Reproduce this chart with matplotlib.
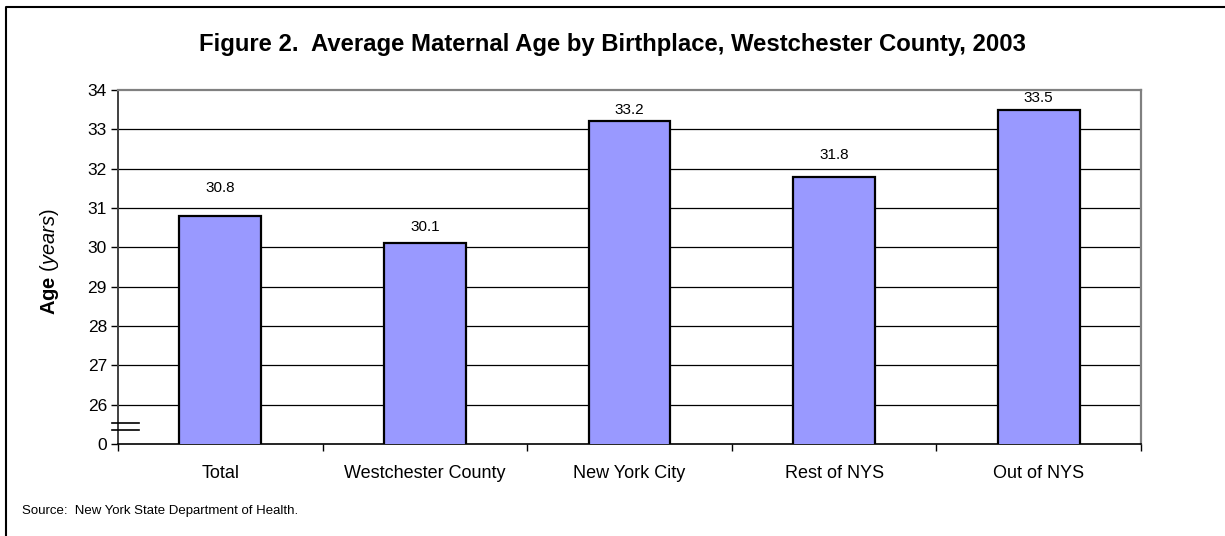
import matplotlib.pyplot as plt
from matplotlib.lines import Line2D
from matplotlib.ticker import FixedLocator
import numpy as np

plt.rcParams['font.family'] = ['Liberation Sans', 'DejaVu Sans']
plt.rcParams['mathtext.fontset'] = 'custom'
plt.rcParams['mathtext.rm'] = 'Liberation Sans'
plt.rcParams['mathtext.bf'] = 'Liberation Sans:bold'
plt.rcParams['mathtext.it'] = 'Liberation Sans:italic'

# data
categories = ["Total", "Westchester County", "New York City", "Rest of NYS", "Out of NYS"]
ages = [30.8, 30.1, 33.2, 31.8, 33.5]
ytick_values = [25, 26, 27, 28, 29, 30, 31, 32, 33, 34]
ytick_labels = ["0", "26", "27", "28", "29", "30", "31", "32", "33", "34"]

# label offsets above bars (points), Excel placed them unevenly
label_offsets = [20, 12, 8.5, 15.5, 8.5]

fig = plt.figure(figsize=(12.25, 5.36), dpi=100)
ax = fig.add_axes([118 / 1225, 1 - 444 / 536, (1141 - 118) / 1225, (444 - 90) / 536])

x = np.arange(len(categories))
bars = ax.bar(x, ages, width=0.4, bottom=0, color="#9999FF", edgecolor="black", linewidth=1.6, zorder=3)

ax.set_xlim(-0.5, len(categories) - 0.5)
ax.set_ylim(25, 34)

# gridlines
for yv in ytick_values[1:-1]:
    ax.axhline(yv, color="black", linewidth=0.9, zorder=1)

ax.set_yticks(ytick_values)
ax.set_yticklabels(ytick_labels, fontsize=12.5)
ax.tick_params(axis="y", direction="out", length=5, width=1, pad=3)

ax.set_xticks(x)
ax.set_xticklabels(categories, fontsize=13)
ax.tick_params(axis="x", which="major", length=0, pad=15)
ax.xaxis.set_minor_locator(FixedLocator(np.arange(-0.5, len(categories), 1.0)))
ax.tick_params(axis="x", which="minor", direction="out", length=5, width=1)

for s in ["top", "right"]:
    ax.spines[s].set_color("#808080")
    ax.spines[s].set_linewidth(1.6)
ax.spines["left"].set_color("#404040")
ax.spines["left"].set_linewidth(1.4)
ax.spines["bottom"].set_color("black")
ax.spines["bottom"].set_linewidth(1.2)

for b, v, off in zip(bars, ages, label_offsets):
    ax.annotate(f"{v:.1f}", (b.get_x() + b.get_width() / 2, v), xytext=(0, off),
                textcoords="offset points", ha="center", va="center", fontsize=11)

# axis break marks
trans = ax.get_yaxis_transform()
for yb in [25.36, 25.53]:
    ax.plot([-0.006, 0.0205], [yb, yb], color="black", linewidth=1.2, transform=trans, clip_on=False, zorder=5)

ax.set_ylabel(r"$\bf{Age}$ $\it{(years)}$", fontsize=14.5)
ax.yaxis.set_label_coords(-0.056, 0.516)

fig.text(0.5, 1 - 45 / 536, "Figure 2.  Average Maternal Age by Birthplace, Westchester County, 2003",
         ha="center", va="center", fontsize=17.2, fontweight="bold")
fig.text(22 / 1225, 1 - 511 / 536, "Source:  New York State Department of Health.", fontsize=9.5, va="center")

# outer frame (left and top edges visible)
fig.add_artist(Line2D([6 / 1225, 6 / 1225, 1.0], [0.0, 1 - 7 / 536, 1 - 7 / 536],
                      transform=fig.transFigure, color="black", linewidth=1.5))

fig.savefig("out.png", dpi=100)
